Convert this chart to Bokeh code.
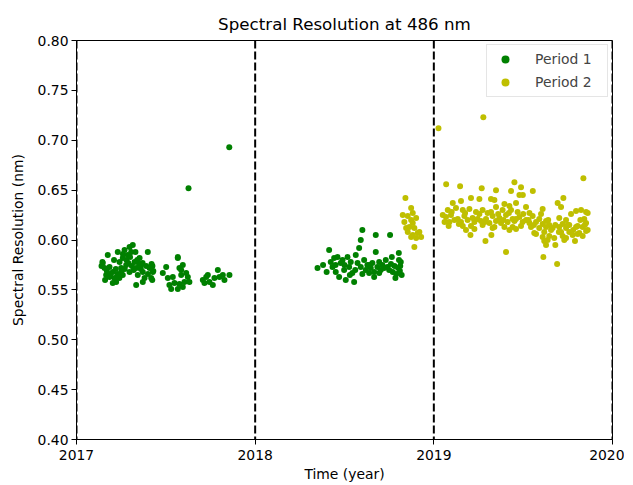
from bokeh.plotting import figure
from bokeh.models import Range1d, Span, FixedTicker, NumeralTickFormatter
from bokeh.embed import file_html
from bokeh.resources import INLINE

# ---------------- data ----------------
title_text = "Spectral Resolution at 486 nm"
x_label = "Time (year)"
y_label = "Spectral Resolution (nm)"
x_ticks = [2017, 2018, 2019, 2020]
y_ticks = [0.40, 0.45, 0.50, 0.55, 0.60, 0.65, 0.70, 0.75, 0.80]
year_boundaries = [2017, 2018, 2019, 2020]

# Period 1, early 2017 cluster
p1_a_x = [2017.147, 2017.175, 2017.157, 2017.166, 2017.185, 2017.203, 2017.213, 2017.231,
          2017.241, 2017.250, 2017.259, 2017.269, 2017.278, 2017.287, 2017.297, 2017.306,
          2017.315, 2017.325, 2017.334, 2017.343, 2017.353, 2017.362, 2017.371, 2017.381,
          2017.399, 2017.409, 2017.418, 2017.427, 2017.334, 2017.371, 2017.297, 2017.259,
          2017.222, 2017.203, 2017.185,
          2017.145, 2017.140, 2017.170, 2017.190, 2017.220, 2017.230, 2017.250, 2017.270,
          2017.280, 2017.290, 2017.310, 2017.320, 2017.340, 2017.350, 2017.360, 2017.370,
          2017.390, 2017.400, 2017.420, 2017.425, 2017.430, 2017.210, 2017.260, 2017.300,
          2017.330, 2017.160, 2017.240, 2017.424]
p1_a_y = [0.577, 0.585, 0.572, 0.565, 0.573, 0.568, 0.562, 0.588,
          0.578, 0.572, 0.582, 0.590, 0.575, 0.585, 0.593, 0.588,
          0.595, 0.578, 0.572, 0.565, 0.582, 0.575, 0.568, 0.562,
          0.588, 0.572, 0.562, 0.568, 0.555, 0.558, 0.568, 0.565,
          0.558, 0.557, 0.563,
          0.578, 0.574, 0.569, 0.566, 0.571, 0.566, 0.568, 0.571,
          0.580, 0.577, 0.574, 0.570, 0.580, 0.576, 0.571, 0.577,
          0.574, 0.566, 0.576, 0.574, 0.569, 0.580, 0.586, 0.583,
          0.588, 0.560, 0.562, 0.560]

# Period 1, late 2017 clusters and outliers
p1_b_x = [2017.483, 2017.502, 2017.511, 2017.520, 2017.539, 2017.548, 2017.567, 2017.576,
          2017.586, 2017.595, 2017.604, 2017.614, 2017.567, 2017.530, 2017.586, 2017.576,
          2017.595, 2017.623, 2017.632, 2017.567,
          2017.707, 2017.716, 2017.726, 2017.735, 2017.744, 2017.763, 2017.772, 2017.791,
          2017.800, 2017.819, 2017.828, 2017.856,
          2017.627, 2017.855]
p1_b_y = [0.567, 0.573, 0.562, 0.555, 0.563, 0.557, 0.582, 0.572,
          0.565, 0.575, 0.558, 0.567, 0.551, 0.551, 0.570, 0.556,
          0.553, 0.563, 0.558, 0.583,
          0.560, 0.557, 0.563, 0.565, 0.558, 0.555, 0.562, 0.570,
          0.563, 0.565, 0.560, 0.565,
          0.652, 0.693]

# Period 1, 2018 cluster
p1_c_x = [2018.349, 2018.414, 2018.423, 2018.433, 2018.442, 2018.451, 2018.461, 2018.470,
          2018.479, 2018.489, 2018.498, 2018.507, 2018.517, 2018.526, 2018.535, 2018.544,
          2018.554, 2018.563, 2018.573, 2018.582, 2018.591, 2018.591, 2018.600, 2018.610,
          2018.619, 2018.628, 2018.638, 2018.647, 2018.656, 2018.666, 2018.675, 2018.675,
          2018.684, 2018.694, 2018.703, 2018.712, 2018.722, 2018.731, 2018.740, 2018.694,
          2018.666, 2018.755, 2018.804, 2018.812, 2018.750, 2018.760, 2018.770, 2018.780,
          2018.790, 2018.800, 2018.810, 2018.815, 2018.820, 2018.805, 2018.785, 2018.765,
          2018.380, 2018.400, 2018.450, 2018.500, 2018.530, 2018.560, 2018.600, 2018.640]
p1_c_y = [0.572, 0.590, 0.578, 0.573, 0.582, 0.568, 0.583, 0.563,
          0.577, 0.580, 0.570, 0.560, 0.583, 0.573, 0.578, 0.567,
          0.558, 0.585, 0.577, 0.592, 0.600, 0.573, 0.610, 0.580,
          0.570, 0.575, 0.567, 0.572, 0.577, 0.568, 0.605, 0.588,
          0.573, 0.578, 0.570, 0.575, 0.572, 0.580, 0.573, 0.567,
          0.563, 0.605, 0.587, 0.574, 0.570, 0.576, 0.568, 0.574,
          0.566, 0.572, 0.569, 0.578, 0.565, 0.580, 0.562, 0.583,
          0.575, 0.568, 0.575, 0.575, 0.565, 0.570, 0.566, 0.575]

# Period 2, end of 2018
p2_a_x = [2018.841, 2018.873, 2018.826, 2018.854, 2018.882, 2018.835, 2018.873, 2018.901,
          2018.863, 2018.891, 2018.845, 2018.882, 2018.910, 2018.929, 2018.901, 2018.873,
          2018.919, 2018.882, 2018.891, 2018.854]
p2_a_y = [0.642, 0.632, 0.625, 0.624, 0.627, 0.618, 0.620, 0.622,
          0.613, 0.612, 0.612, 0.605, 0.607, 0.603, 0.602, 0.603,
          0.608, 0.617, 0.593, 0.608]

# Period 2, 2019 outliers
p2_b_x = [2019.026, 2019.277, 2019.837, 2019.069, 2019.147, 2019.268, 2019.348, 2019.451,
          2019.432, 2019.488, 2019.554, 2019.479, 2019.498, 2019.404, 2019.613, 2019.690,
          2019.289, 2019.322, 2019.205, 2019.680, 2019.628, 2019.725, 2019.693, 2019.796,
          2019.852]
p2_b_y = [0.712, 0.723, 0.662, 0.656, 0.654, 0.652, 0.650, 0.658,
          0.649, 0.653, 0.649, 0.645, 0.645, 0.588, 0.583, 0.576,
          0.599, 0.605, 0.605, 0.595, 0.595, 0.642, 0.637, 0.629,
          0.628]

# Period 2, 2019 main band
p2_c_x = [2019.106, 2019.152, 2019.208, 2019.255, 2019.320, 2019.339, 2019.395, 2019.423,
          2019.460, 2019.516, 2019.712,
          2019.078, 2019.124, 2019.162, 2019.199, 2019.236, 2019.273, 2019.301, 2019.348,
          2019.385, 2019.432, 2019.469, 2019.535, 2019.609, 2019.768, 2019.824, 2019.861,
          2019.068, 2019.096, 2019.134, 2019.171, 2019.217, 2019.255, 2019.292, 2019.329,
          2019.367, 2019.404, 2019.441, 2019.479, 2019.516, 2019.553, 2019.590, 2019.628,
          2019.702, 2019.740, 2019.842,
          2019.087, 2019.115, 2019.152, 2019.189, 2019.227, 2019.264, 2019.311, 2019.348,
          2019.376, 2019.413, 2019.451, 2019.497, 2019.535, 2019.572, 2019.609, 2019.646,
          2019.721, 2019.758, 2019.805, 2019.852,
          2019.083, 2019.162, 2019.208, 2019.273, 2019.339, 2019.395, 2019.441, 2019.488,
          2019.544, 2019.590, 2019.628, 2019.665, 2019.702, 2019.740, 2019.796, 2019.833,
          2019.861,
          2019.180, 2019.227, 2019.329, 2019.423, 2019.460, 2019.562, 2019.618, 2019.656,
          2019.712, 2019.758, 2019.814, 2019.852,
          2019.572, 2019.609, 2019.646, 2019.674, 2019.721, 2019.740, 2019.777, 2019.805,
          2019.833,
          2019.618, 2019.637, 2019.730, 2019.790,
          2019.050, 2019.060, 2019.100, 2019.140, 2019.175, 2019.245, 2019.285, 2019.320,
          2019.360, 2019.390, 2019.420, 2019.460, 2019.500, 2019.530, 2019.560, 2019.600,
          2019.640, 2019.680, 2019.700, 2019.750, 2019.780, 2019.820, 2019.845]
p2_c_y = [0.637, 0.639, 0.642, 0.641, 0.641, 0.640, 0.636, 0.634,
          0.637, 0.633, 0.633,
          0.630, 0.632, 0.630, 0.631, 0.628, 0.630, 0.627, 0.633,
          0.630, 0.630, 0.628, 0.627, 0.631, 0.626, 0.630, 0.627,
          0.623, 0.625, 0.621, 0.624, 0.622, 0.626, 0.621, 0.624,
          0.622, 0.625, 0.621, 0.623, 0.620, 0.624, 0.621, 0.619,
          0.622, 0.620, 0.621,
          0.618, 0.620, 0.618, 0.620, 0.618, 0.619, 0.617, 0.619,
          0.617, 0.618, 0.619, 0.618, 0.617, 0.618, 0.616, 0.615,
          0.616, 0.615, 0.614, 0.617,
          0.614, 0.614, 0.614, 0.615, 0.613, 0.613, 0.613, 0.614,
          0.613, 0.612, 0.613, 0.612, 0.613, 0.612, 0.613, 0.613,
          0.610,
          0.610, 0.611, 0.612, 0.610, 0.611, 0.607, 0.608, 0.610,
          0.608, 0.608, 0.607, 0.609,
          0.606, 0.603, 0.604, 0.602, 0.604, 0.602, 0.605, 0.606,
          0.604,
          0.599, 0.600, 0.600, 0.599,
          0.625, 0.618, 0.628, 0.616, 0.627, 0.621, 0.618, 0.628,
          0.626, 0.620, 0.627, 0.621, 0.626, 0.620, 0.615, 0.626,
          0.620, 0.615, 0.608, 0.615, 0.610, 0.620, 0.615]

p1_x = p1_a_x + p1_b_x + p1_c_x
p1_y = p1_a_y + p1_b_y + p1_c_y
p2_x = p2_a_x + p2_b_x + p2_c_x
p2_y = p2_a_y + p2_b_y + p2_c_y

# ---------------- figure ----------------
FONT = "DejaVu Sans"
p = figure(width=624, height=484, output_backend="svg", toolbar_location=None,
           x_range=Range1d(2017, 2020), y_range=Range1d(0.40, 0.80),
           title=title_text,
           min_border_left=76, min_border_right=12, min_border_top=40, min_border_bottom=44)

p.title.align = "center"
p.title.text_font = FONT
p.title.text_font_size = "16.7px"
p.title.text_font_style = "normal"
p.title.text_color = "black"
p.title.standoff = 14

p.xgrid.visible = False
p.ygrid.visible = False
p.outline_line_color = "black"
p.outline_line_width = 1
p.background_fill_color = "white"
p.border_fill_color = "white"

for ax in (p.xaxis[0], p.yaxis[0]):
    ax.axis_line_color = "black"
    ax.major_tick_line_color = "black"
    ax.major_tick_out = 5
    ax.major_tick_in = 0
    ax.minor_tick_line_color = None
    ax.major_label_text_font = FONT
    ax.major_label_text_font_size = "13.9px"
    ax.major_label_text_color = "black"
    ax.axis_label_text_font = FONT
    ax.axis_label_text_font_size = "13.9px"
    ax.axis_label_text_font_style = "normal"
    ax.axis_label_text_color = "black"

p.xaxis.major_label_standoff = 5
p.xaxis.axis_label_standoff = 3
p.yaxis.major_label_standoff = 3
p.yaxis.axis_label_standoff = 9

p.xaxis.ticker = FixedTicker(ticks=x_ticks)
p.xaxis.major_label_overrides = {t: str(t) for t in x_ticks}
p.yaxis.ticker = FixedTicker(ticks=y_ticks)
p.yaxis.formatter = NumeralTickFormatter(format="0.00")
p.xaxis.axis_label = x_label
p.yaxis.axis_label = y_label

p.scatter(p1_x, p1_y, size=6, marker="circle", fill_color="#008000", line_color=None,
          legend_label="Period 1")
p.scatter(p2_x, p2_y, size=6, marker="circle", fill_color="#bfbf00", line_color=None,
          legend_label="Period 2")

for yb in year_boundaries:
    p.add_layout(Span(location=yb, dimension="height", line_color="black",
                      line_width=2, line_dash="8 3"))

lg = p.legend[0]
lg.location = "top_right"
lg.margin = 4
lg.padding = 4
lg.spacing = 3
lg.glyph_width = 28
lg.glyph_height = 20
lg.label_height = 20
lg.label_width = 68
lg.label_standoff = 16
lg.label_text_font = FONT
lg.label_text_font_size = "13.9px"
lg.border_line_color = "#cccccc"
lg.border_line_width = 1
lg.background_fill_alpha = 0.8

open("out.html", "w").write(file_html(p, INLINE))
